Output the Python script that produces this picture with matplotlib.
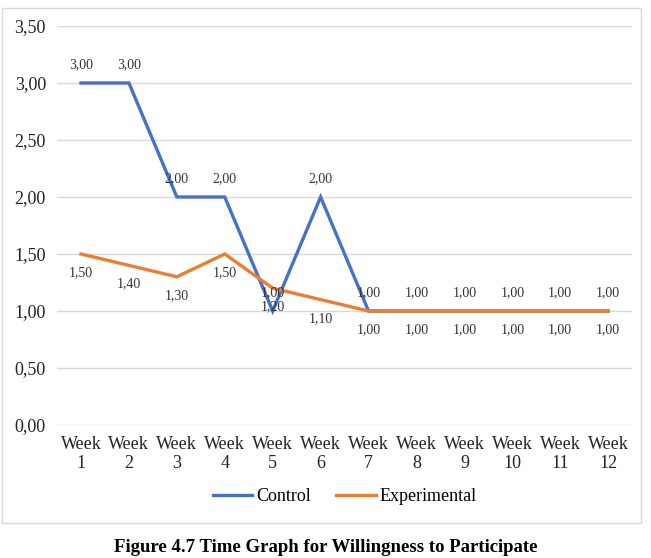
import matplotlib.pyplot as plt
from matplotlib.patches import Rectangle

# Data
weeks = ["Week\n%d" % i for i in range(1, 13)]
control = [3.0, 3.0, 2.0, 2.0, 1.0, 2.0, 1.0, 1.0, 1.0, 1.0, 1.0, 1.0]
experimental = [1.5, 1.4, 1.3, 1.5, 1.2, 1.1, 1.0, 1.0, 1.0, 1.0, 1.0, 1.0]
yticks = [0, 0.5, 1.0, 1.5, 2.0, 2.5, 3.0, 3.5]

plt.rcParams['font.family'] = ['Liberation Serif', 'DejaVu Serif']

fig = plt.figure(figsize=(6.51, 5.58), dpi=100)
ax = fig.add_axes([0.0876, 0.2384, 0.8834, 0.715])

# chart frame
fig.patches.append(Rectangle((2 / 651, 1 - 523 / 558), 639 / 651, 515 / 558,
                             transform=fig.transFigure, fill=False,
                             edgecolor='#d9d9d9', lw=1))

x = list(range(len(weeks)))
ax.plot(x, control, color='#4472C4', lw=2.4, label='Control',
        solid_joinstyle='miter')
ax.plot(x, experimental, color='#ED7D31', lw=2.4, label='Experimental',
        solid_joinstyle='miter')

fmt = lambda v: ("%.2f" % v).replace('.', ',')
for i, v in enumerate(control):
    ax.annotate(fmt(v), (i, v), xytext=(0, 13), textcoords='offset points',
                ha='center', va='center', fontsize=10, color='#333333')
for i, v in enumerate(experimental):
    ax.annotate(fmt(v), (i, v), xytext=(0, -13.5), textcoords='offset points',
                ha='center', va='center', fontsize=10, color='#333333')

ax.set_xlim(-0.5, 11.5)
ax.set_ylim(0, 3.5)
ax.set_yticks(yticks)
ax.set_yticklabels([fmt(t) for t in yticks], fontsize=13, color='#222222')
ax.set_xticks(x)
ax.set_xticklabels(weeks, fontsize=13, color='#222222', linespacing=1.15)
ax.tick_params(length=0, pad=8)
ax.grid(axis='y', color='#d9d9d9', lw=1)
ax.set_axisbelow(True)
for s in ax.spines.values():
    s.set_visible(False)

ax.legend(loc='center', bbox_to_anchor=(0.5, -0.18), ncol=2, frameon=False,
          fontsize=13, handlelength=2.2, handletextpad=0.2, columnspacing=1.4)

fig.text(0.5, 1 - 547 / 558, "Figure 4.7 Time Graph for Willingness to Participate",
         ha='center', va='center', fontsize=13.5, fontweight='bold')

fig.savefig('out.png', dpi=100)
